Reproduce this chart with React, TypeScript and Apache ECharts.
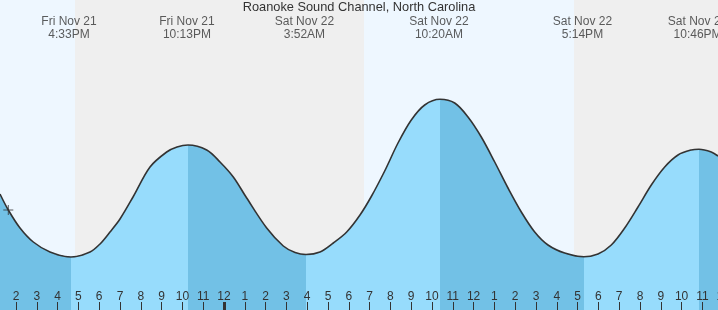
import React, { useEffect, useRef } from "react";
import * as echarts from "echarts";

// Hours counted from Fri Nov 21 00:00
const titleText = "Roanoke Sound Channel, North Carolina";

// Tide curve (time in hours, height in ft)
const curveTimes = [
  13.231, 13.63, 14.193, 14.832, 15.635, 16.644, 17.558, 18.039, 18.519, 19.0,
  19.64, 20.443, 21.245, 21.741, 22.269, 23.169, 23.808, 24.447, 25.092,
  26.053, 26.851, 27.418, 27.943, 28.616, 29.255, 29.899, 30.539, 31.082, 31.726, 32.366,
  33.005, 33.649, 34.385, 35.092, 35.731, 36.37, 37.015, 37.654, 38.294, 38.938,
  39.577, 40.38, 41.308, 41.981, 42.62, 43.265, 43.904, 44.544, 45.188, 45.827,
  46.467, 46.837, 47.428, 47.75,
];
const curveHeights = [
  0.66, 0.5, 0.32, 0.18, 0.08, 0.03, 0.08, 0.16, 0.28, 0.41,
  0.635, 0.93, 1.08, 1.13, 1.15, 1.1, 0.98, 0.83, 0.62,
  0.32, 0.14, 0.075, 0.055, 0.08, 0.17, 0.28, 0.45, 0.635, 0.89, 1.17,
  1.4, 1.55, 1.607, 1.57, 1.43, 1.23, 0.98, 0.72, 0.48, 0.28,
  0.15, 0.07, 0.033, 0.06, 0.15, 0.32, 0.53, 0.75, 0.93, 1.05,
  1.1, 1.107, 1.08, 1.04,
];

// Turning points of the curve (low/high), where the fill shade switches
const turnTimes = [16.644, 22.269, 27.943, 34.385, 41.308, 46.837];

// High / low labels
const extremeTimes = [16.55, 22.217, 27.867, 34.333, 41.233, 46.767];
const extremeDates = ["Fri Nov 21", "Fri Nov 21", "Sat Nov 22", "Sat Nov 22", "Sat Nov 22", "Sat Nov 22"];
const extremeClock = ["4:33PM", "10:13PM", "3:52AM", "10:20AM", "5:14PM", "10:46PM"];

// Day / night bands
const bandEdges = [13.231, 16.837, 30.731, 40.827, 48.808];
const bandKinds = ["day", "night", "day", "night"];

// Current time marker
const nowPoint = [13.63, 0.5];

// Hour ticks
const tickHours = Array.from({ length: 35 }, (_, i) => 14 + i);
const midnightHours = [24];

const X_MIN = 13.231;
const X_MAX = 48.808;
const Y_MIN = -0.5;
const Y_MAX = 2.6;
const LABEL_Y = 2.328;

const DAY = "#eef7ff";
const NIGHT = "#efefef";
const RISE = "#97dcfc";
const FALL = "#72c1e6";
const INK = "#333333";
const FONT = "'Liberation Sans', Arial, sans-serif";

export default function App() {
  const ref = useRef<HTMLDivElement>(null);
  useEffect(() => {
    document.body.style.margin = "0";
    document.body.style.overflow = "hidden";
    const chart = echarts.init(ref.current!, null, { renderer: "svg" });

    const pieces: any[] = [];
    for (let i = 0; i <= turnTimes.length; i++) {
      const p: any = { color: i % 2 === 0 ? FALL : RISE };
      if (i > 0) p.gte = turnTimes[i - 1];
      if (i < turnTimes.length) p.lt = turnTimes[i];
      pieces.push(p);
    }

    const bands = bandKinds.map((k, i) => [
      { xAxis: bandEdges[i], itemStyle: { color: k === "day" ? DAY : NIGHT } },
      { xAxis: bandEdges[i + 1] },
    ]);

    chart.setOption({
      animation: false,
      title: {
        text: titleText,
        left: 359,
        top: 0,
        padding: 0,
        textAlign: "center",
        textStyle: { fontSize: 12.8, fontWeight: "normal", color: INK, fontFamily: FONT },
      },
      grid: { left: 0, right: 0, top: 0, bottom: 0, containLabel: false },
      xAxis: {
        type: "value",
        min: X_MIN,
        max: X_MAX,
        z: 6,
        axisLine: { show: false, onZero: false },
        splitLine: { show: false },
        axisTick: {
          show: true,
          inside: true,
          length: 8,
          customValues: tickHours,
          lineStyle: { color: INK, width: 1 },
        },
        axisLabel: {
          show: true,
          inside: true,
          margin: 8,
          customValues: tickHours,
          color: INK,
          fontSize: 12,
          fontFamily: FONT,
          formatter: (v: number) => String(v % 12 === 0 ? 12 : v % 12),
        },
      },
      yAxis: { type: "value", min: Y_MIN, max: Y_MAX, show: false },
      visualMap: {
        show: false,
        type: "piecewise",
        dimension: 0,
        seriesIndex: 0,
        pieces,
      },
      series: [
        {
          type: "line",
          data: curveTimes.map((t, i) => [t, curveHeights[i]]),
          smooth: 0.33,
          symbol: "none",
          lineStyle: { color: INK, width: 1.6 },
          areaStyle: { origin: "start", opacity: 1 },
          markArea: { silent: true, data: bands },
          markLine: {
            silent: true,
            symbol: "none",
            label: { show: false },
            lineStyle: { color: INK, width: 3, type: "solid" },
            data: midnightHours.map((h) => [
              { coord: [h, Y_MIN] },
              { coord: [h, Y_MIN + 0.08] },
            ]),
          },
        },
        {
          type: "scatter",
          data: [nowPoint],
          symbol: "path://M4.5,0h1v4.5h4.5v1h-4.5v4.5h-1v-4.5h-4.5v-1h4.5z",
          symbolSize: 10,
          itemStyle: { color: INK },
          z: 10,
        },
        {
          type: "scatter",
          data: extremeTimes.map((t) => [t, LABEL_Y]),
          symbolSize: 1,
          itemStyle: { color: "rgba(0,0,0,0)" },
          label: {
            show: true,
            position: "inside",
            color: INK,
            fontSize: 12,
            lineHeight: 13,
            fontFamily: FONT,
            align: "center",
            formatter: (p: any) => extremeDates[p.dataIndex] + "\n" + extremeClock[p.dataIndex],
          },
          z: 10,
        },
      ],
    });
    return () => chart.dispose();
  }, []);
  return (
    <div
      ref={ref}
      style={{ position: "fixed", left: 0, top: 0, width: 740, height: 310 }}
    />
  );
}
